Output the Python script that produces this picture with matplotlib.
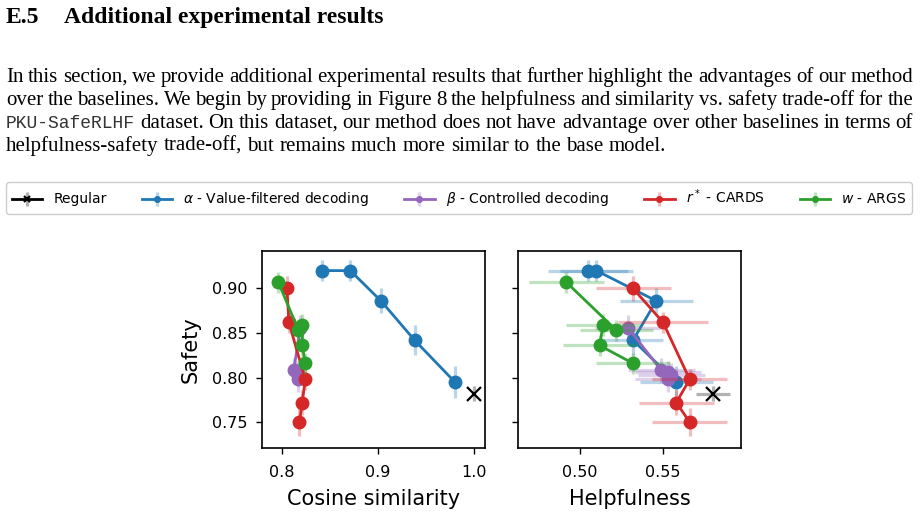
import matplotlib
matplotlib.use("Agg")
import matplotlib.pyplot as plt
from matplotlib.colors import to_rgba

# ---------------- data ----------------
alpha_sim = [0.842, 0.871, 0.903, 0.938, 0.980]
alpha_help = [0.505, 0.510, 0.546, 0.532, 0.558]
alpha_safety = [0.920, 0.920, 0.886, 0.842, 0.795]
alpha_safety_err = [0.012, 0.012, 0.014, 0.017, 0.018]
alpha_help_err = [0.024, 0.022, 0.022, 0.018, 0.022]

beta_sim = [0.819, 0.812, 0.815, 0.817, 0.816]
beta_help = [0.529, 0.549, 0.553, 0.555, 0.553]
beta_safety = [0.856, 0.808, 0.806, 0.803, 0.798]
beta_safety_err = [0.014, 0.014, 0.013, 0.013, 0.014]
beta_help_err = [0.020, 0.020, 0.020, 0.020, 0.020]

cards_sim = [0.805, 0.807, 0.824, 0.821, 0.818]
cards_help = [0.532, 0.550, 0.566, 0.558, 0.566]
cards_safety = [0.900, 0.862, 0.798, 0.772, 0.750]
cards_safety_err = [0.014, 0.012, 0.012, 0.014, 0.016]
cards_help_err = [0.0225, 0.027, 0.0225, 0.0225, 0.0225]

args_sim = [0.796, 0.817, 0.821, 0.821, 0.824]
args_help = [0.492, 0.522, 0.514, 0.512, 0.532]
args_safety = [0.907, 0.853, 0.859, 0.836, 0.816]
args_safety_err = [0.012, 0.012, 0.012, 0.012, 0.012]
args_help_err = [0.0225, 0.022, 0.022, 0.022, 0.022]

regular_sim = [1.0]
regular_help = [0.580]
regular_safety = [0.782]
regular_safety_err = [0.008]
regular_help_err = [0.010]

labels = ["Regular", r"$\alpha$ - Value-filtered decoding", r"$\beta$ - Controlled decoding",
          r"$r^*$ - CARDS", r"$w$ - ARGS"]
colors = ["black", "#1f77b4", "#9467bd", "#d62728", "#2ca02c"]

heading_num = "E.5"
heading_title = "Additional experimental results"
body_lines = [
    "In this section, we provide additional experimental results that further highlight the advantages of our method",
    "over the baselines. We begin by providing in Figure 8 the helpfulness and similarity vs. safety trade-off for the",
    "@PKU-SafeRLHF dataset. On this dataset, our method does not have advantage over other baselines in terms of",
    "helpfulness-safety trade-off, but remains much more similar to the base model.",
]

W, H = 921, 516
fig = plt.figure(figsize=(W / 100, H / 100), dpi=100)

# ---------------- text ----------------
fig.text(6 / W, 1 - 23 / H, heading_num, fontsize=17, family="Liberation Serif",
         fontweight="bold", va="baseline", ha="left")
fig.text(64 / W, 1 - 23 / H, heading_title, fontsize=17, family="Liberation Serif",
         fontweight="bold", va="baseline", ha="left")

renderer = fig.canvas.get_renderer()
BODY = 15
baselines = [82, 105, 128, 151]
x0, x1 = 6, 913
probe2 = fig.text(0, 0, "a a", fontsize=BODY, family="Liberation Serif")
probe1 = fig.text(0, 0, "aa", fontsize=BODY, family="Liberation Serif")
nat_sp = probe2.get_window_extent(renderer).width - probe1.get_window_extent(renderer).width
probe1.remove()
probe2.remove()
for li, line in enumerate(body_lines):
    words = line.split(" ")
    objs = []
    for w in words:
        if w.startswith("@"):
            t = fig.text(0, 1 - baselines[li] / H, w[1:], fontsize=13, family="Liberation Mono",
                         va="baseline", ha="left", color="#333333")
        else:
            t = fig.text(0, 1 - baselines[li] / H, w, fontsize=BODY, family="Liberation Serif",
                         va="baseline", ha="left")
        objs.append(t)
    widths = [o.get_window_extent(renderer).width for o in objs]
    sp = nat_sp
    if li < len(body_lines) - 1:
        sp = (x1 - x0 - sum(widths)) / (len(words) - 1)
    x = x0
    for o, wd in zip(objs, widths):
        o.set_x(x / W)
        x += wd + sp

# ---------------- axes ----------------
axL = fig.add_axes([262 / W, 1 - 448 / H, 223 / W, 197 / H])
axR = fig.add_axes([518 / W, 1 - 448 / H, 223 / W, 197 / H], sharey=axL)

series = [
    (regular_sim, regular_help, regular_safety, regular_safety_err, regular_help_err),
    (alpha_sim, alpha_help, alpha_safety, alpha_safety_err, alpha_help_err),
    (beta_sim, beta_help, beta_safety, beta_safety_err, beta_help_err),
    (cards_sim, cards_help, cards_safety, cards_safety_err, cards_help_err),
    (args_sim, args_help, args_safety, args_safety_err, args_help_err),
]

handles = []
for i, (sim, hel, saf, serr, herr) in enumerate(series):
    c = colors[i]
    ec = to_rgba("gray", 0.6) if i == 0 else to_rgba(c, 0.3)
    kw = dict(color=c, ecolor=ec, elinewidth=2.3, lw=2.0, zorder=2 + i)
    if i == 0:
        kw.update(marker="x", ms=10, mew=1.6)
    else:
        kw.update(marker="o", ms=9)
    h = axL.errorbar(sim, saf, yerr=serr, label=labels[i], **kw)
    axR.errorbar(hel, saf, yerr=serr, xerr=herr, **kw)
    handles.append(h)

axL.set_xlim(0.779, 1.0114)
axL.set_ylim(0.721, 0.942)
axL.set_xticks([0.8, 0.9, 1.0])
axL.set_yticks([0.75, 0.80, 0.85, 0.90])
axL.set_xlabel("Cosine similarity", fontsize=15, labelpad=6)
axL.set_ylabel("Safety", fontsize=15, labelpad=8)

axR.set_xlim(0.463, 0.5968)
axR.set_xticks([0.50, 0.55])
axR.set_xticklabels(["0.50", "0.55"])
axR.set_xlabel("Helpfulness", fontsize=15, labelpad=6)
axR.tick_params(labelleft=False)

for ax in (axL, axR):
    ax.tick_params(labelsize=11.5, width=1.0, length=4.5)
    ax.tick_params(axis="x", pad=8)
    ax.tick_params(axis="y", pad=6)
    for s in ax.spines.values():
        s.set_linewidth(1.2)

leg = fig.legend(handles=handles, labels=labels, loc="lower left",
                 bbox_to_anchor=(6 / W, 1 - 214 / H, 906 / W, 28 / H),
                 mode="expand", ncol=5, fontsize=10, markerscale=0.45,
                 handlelength=2.2, borderaxespad=0, frameon=True,
                 fancybox=True, edgecolor="#cccccc", framealpha=1)
for ln in leg.get_lines():
    if ln.get_marker() == "x":
        ln.set_markeredgewidth(1.0)
        ln.set_markersize(7)
        ln.set_linewidth(1.5)

fig.savefig("out.png", dpi=100)
